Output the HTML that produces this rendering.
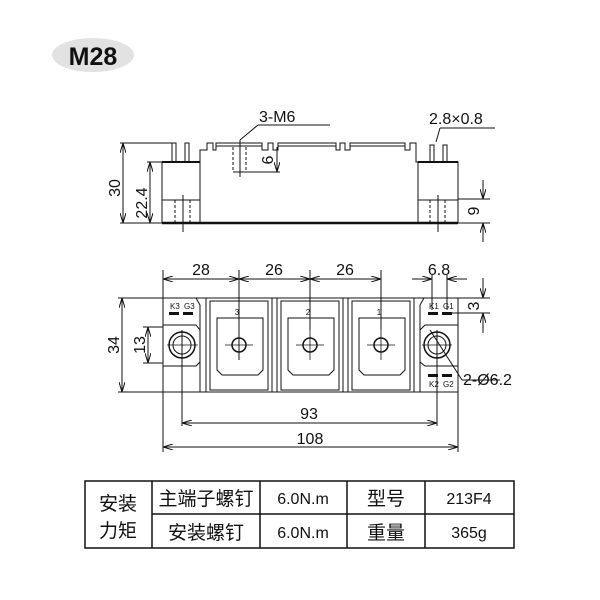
<!DOCTYPE html>
<html><head><meta charset="utf-8"><style>
body{margin:0;background:#fff;width:600px;height:600px;overflow:hidden}
svg{display:block}
text{font-family:"Liberation Sans","Noto Sans CJK SC",sans-serif;fill:#111}
</style></head><body>
<svg width="600" height="600" viewBox="0 0 600 600" xmlns="http://www.w3.org/2000/svg">
<defs>
<marker id="a" viewBox="0 0 10 6" refX="10" refY="3" markerWidth="10" markerHeight="6" orient="auto-start-reverse" markerUnits="userSpaceOnUse"><path d="M0,0L10,3L0,6" fill="none" stroke="#111" stroke-width="1"/></marker>
</defs>
<ellipse cx="93" cy="55" rx="41" ry="17" fill="#e2e2e2"/>
<text x="93" y="65" font-size="25" font-weight="bold" text-anchor="middle">M28</text>

<g stroke="#111" fill="none" stroke-width="1">
<!-- side view -->
<line x1="162" y1="223" x2="458" y2="223" stroke-width="2.5"/>
<path d="M162,223V162H200V150H207V143H213V150H216V146H262V150H268V143H273V150H278V146H336V150H340V143H345V150H350V146H405V150H410V143H416V162H458V223"/>
<path d="M216,146V143H262V146M278,146V143H336V146M350,146V143H405V146"/>
<line x1="200" y1="162" x2="200" y2="223"/>
<line x1="418" y1="162" x2="418" y2="223"/>
<line x1="162" y1="162" x2="200" y2="162" stroke-width="2"/>
<line x1="418" y1="162" x2="458" y2="162" stroke-width="2"/>
<rect x="172" y="143" width="4" height="19"/><rect x="185" y="143" width="4" height="19"/>
<rect x="430" y="145" width="4" height="17"/><rect x="443" y="145" width="4" height="17"/>
<line x1="162" y1="200" x2="200" y2="200"/><line x1="418" y1="200" x2="458" y2="200"/>
<g stroke-dasharray="3,2"><line x1="175" y1="200" x2="175" y2="223"/><line x1="190" y1="200" x2="190" y2="223"/><line x1="430" y1="200" x2="430" y2="223"/><line x1="445" y1="200" x2="445" y2="223"/>
<line x1="233" y1="147" x2="233" y2="172"/><line x1="246" y1="147" x2="246" y2="172"/></g>
<line x1="183" y1="195" x2="183" y2="232"/><line x1="438" y1="195" x2="438" y2="232"/>
<line x1="240" y1="140" x2="240" y2="177"/>
<line x1="233" y1="172" x2="280" y2="172"/>
<line x1="240" y1="140" x2="258" y2="125"/><line x1="258" y1="125" x2="330" y2="125"/>
<line x1="436" y1="142" x2="440" y2="128"/><line x1="440" y1="128" x2="495" y2="128"/>
<line x1="120" y1="143" x2="172" y2="143"/><line x1="120" y1="223" x2="162" y2="223"/>
<line x1="147" y1="162" x2="162" y2="162"/>
<line x1="123" y1="143" x2="123" y2="223" marker-start="url(#a)" marker-end="url(#a)"/>
<line x1="150" y1="162" x2="150" y2="223" marker-start="url(#a)" marker-end="url(#a)"/>
<line x1="277" y1="147" x2="277" y2="172" marker-end="url(#a)"/>
<line x1="458" y1="199" x2="490" y2="199"/>
<line x1="483" y1="180" x2="483" y2="199" marker-end="url(#a)"/>
<line x1="483" y1="242" x2="483" y2="223" marker-end="url(#a)"/>
<line x1="458" y1="223" x2="490" y2="223"/>

<!-- top view -->
<rect x="163" y="298" width="295" height="94"/>
<path d="M163,325H196L200,330V362L196,366H163"/>
<path d="M458,325H425L420,330V362L425,366H458"/>
<line x1="196" y1="298" x2="200" y2="305"/><line x1="200" y1="305" x2="200" y2="392"/>
<line x1="424" y1="298" x2="420" y2="305"/><line x1="420" y1="305" x2="420" y2="392"/>
<line x1="206" y1="298" x2="206" y2="392"/><line x1="414" y1="298" x2="414" y2="392"/>
<g>
<rect x="210" y="301" width="58" height="89"/><path d="M217,318V370L222,375H258L263,370V318Z"/>
<rect x="281" y="301" width="58" height="89"/><path d="M288,318V370L293,375H329L334,370V318Z"/>
<rect x="352" y="301" width="58" height="89"/><path d="M359,318V370L364,375H400L405,370V318Z"/>
</g>
<line x1="272" y1="298" x2="272" y2="392"/><line x1="277" y1="298" x2="277" y2="392"/>
<line x1="343" y1="298" x2="343" y2="392"/><line x1="348" y1="298" x2="348" y2="392"/>
<circle cx="182" cy="345" r="13" stroke-width="1.5"/><circle cx="182" cy="345" r="9"/>
<circle cx="437" cy="345" r="13" stroke-width="1.5"/><circle cx="437" cy="345" r="9"/>
<circle cx="239" cy="345" r="7" stroke-width="1.5"/><circle cx="310" cy="345" r="7" stroke-width="1.5"/><circle cx="381" cy="345" r="7" stroke-width="1.5"/>
<g stroke-width="0.8">
<line x1="167" y1="345" x2="198" y2="345"/><line x1="422" y1="345" x2="452" y2="345"/>
<line x1="225" y1="345" x2="253" y2="345"/><line x1="296" y1="345" x2="324" y2="345"/><line x1="367" y1="345" x2="395" y2="345"/>
<line x1="310" y1="330" x2="310" y2="360"/><line x1="381" y1="330" x2="381" y2="360"/>
</g>
<g fill="#111" stroke="none">
<rect x="169" y="312" width="10" height="3"/><rect x="183" y="312" width="10" height="3"/>
<rect x="428" y="312" width="10" height="3"/><rect x="442" y="312" width="10" height="3"/>
<rect x="428" y="374" width="10" height="3"/><rect x="442" y="374" width="10" height="3"/>
</g>
<!-- dims -->
<line x1="163" y1="270" x2="163" y2="298"/>
<line x1="239" y1="270" x2="239" y2="360"/>
<line x1="310" y1="270" x2="310" y2="330"/>
<line x1="381" y1="270" x2="381" y2="330"/>
<line x1="163" y1="279" x2="239" y2="279" marker-start="url(#a)" marker-end="url(#a)"/>
<line x1="239" y1="279" x2="310" y2="279" marker-start="url(#a)" marker-end="url(#a)"/>
<line x1="310" y1="279" x2="381" y2="279" marker-start="url(#a)" marker-end="url(#a)"/>
<line x1="432" y1="275" x2="432" y2="310"/><line x1="447" y1="275" x2="447" y2="310"/>
<line x1="412" y1="279" x2="432" y2="279" marker-end="url(#a)"/>
<line x1="467" y1="279" x2="447" y2="279" marker-end="url(#a)"/>
<line x1="458" y1="298" x2="490" y2="298"/><line x1="452" y1="313" x2="490" y2="313"/>
<line x1="483" y1="278" x2="483" y2="298" marker-end="url(#a)"/>
<line x1="483" y1="333" x2="483" y2="313" marker-end="url(#a)"/>
<line x1="118" y1="298" x2="163" y2="298"/><line x1="118" y1="392" x2="163" y2="392"/>
<line x1="122" y1="298" x2="122" y2="392" marker-start="url(#a)" marker-end="url(#a)"/>
<line x1="143" y1="327" x2="163" y2="327"/><line x1="143" y1="363" x2="163" y2="363"/>
<line x1="148" y1="327" x2="148" y2="363" marker-start="url(#a)" marker-end="url(#a)"/>
<line x1="182" y1="330" x2="182" y2="426"/><line x1="437" y1="330" x2="437" y2="426"/>
<line x1="163" y1="392" x2="163" y2="452"/><line x1="458" y1="392" x2="458" y2="452"/>
<line x1="182" y1="423" x2="437" y2="423" marker-start="url(#a)" marker-end="url(#a)"/>
<line x1="163" y1="447" x2="458" y2="447" marker-start="url(#a)" marker-end="url(#a)"/>
<line x1="430" y1="330" x2="462" y2="380"/><line x1="462" y1="380" x2="500" y2="380"/>
</g>
<g font-size="16">
<text x="259" y="122">3-M6</text>
<text x="429" y="124">2.8×0.8</text>
<text x="201" y="275" text-anchor="middle">28</text>
<text x="274" y="275" text-anchor="middle">26</text>
<text x="345" y="275" text-anchor="middle">26</text>
<text x="439" y="275" text-anchor="middle">6.8</text>
<text x="309" y="419" text-anchor="middle">93</text>
<text x="310" y="444" text-anchor="middle">108</text>
<text x="463" y="385">2-Ø6.2</text>
<text transform="translate(120,188) rotate(-90)" text-anchor="middle">30</text>
<text transform="translate(147,203) rotate(-90)" text-anchor="middle">22.4</text>
<text transform="translate(273,160) rotate(-90)" text-anchor="middle">6</text>
<text transform="translate(479,211) rotate(-90)" text-anchor="middle">9</text>
<text transform="translate(479,306) rotate(-90)" text-anchor="middle">3</text>
<text transform="translate(119,345) rotate(-90)" text-anchor="middle">34</text>
<text transform="translate(145,345) rotate(-90)" text-anchor="middle">13</text>
</g>
<g font-size="8">
<text x="170" y="309">K3</text><text x="184" y="309">G3</text>
<text x="429" y="309">K1</text><text x="443" y="309">G1</text>
<text x="429" y="387">K2</text><text x="443" y="387">G2</text>
<text x="237" y="315" text-anchor="middle">3</text><text x="308" y="315" text-anchor="middle">2</text><text x="379" y="315" text-anchor="middle">1</text>
</g>

<!-- table -->
<g stroke="#111" fill="none">
<rect x="85" y="481" width="429" height="67" stroke-width="1.5"/>
<line x1="152" y1="481" x2="152" y2="548" stroke-width="1.5"/>
<line x1="260" y1="481" x2="260" y2="548" stroke-width="1.5"/>
<line x1="347" y1="481" x2="347" y2="548" stroke-width="1.5"/>
<line x1="425" y1="481" x2="425" y2="548" stroke-width="1.5"/>
<line x1="152" y1="514" x2="514" y2="514" stroke-width="1.5"/>
</g>
<g font-size="19" text-anchor="middle">
<text x="118" y="510">安装</text><text x="118" y="537">力矩</text>
<text x="206" y="505">主端子螺钉</text><text x="206" y="539">安装螺钉</text>
<text x="303" y="504" font-size="16">6.0N.m</text><text x="303" y="538" font-size="16">6.0N.m</text>
<text x="386" y="505">型号</text><text x="386" y="539">重量</text>
<text x="469" y="504" font-size="16">213F4</text><text x="469" y="538" font-size="16">365g</text>
</g>
</svg>
</body></html>
